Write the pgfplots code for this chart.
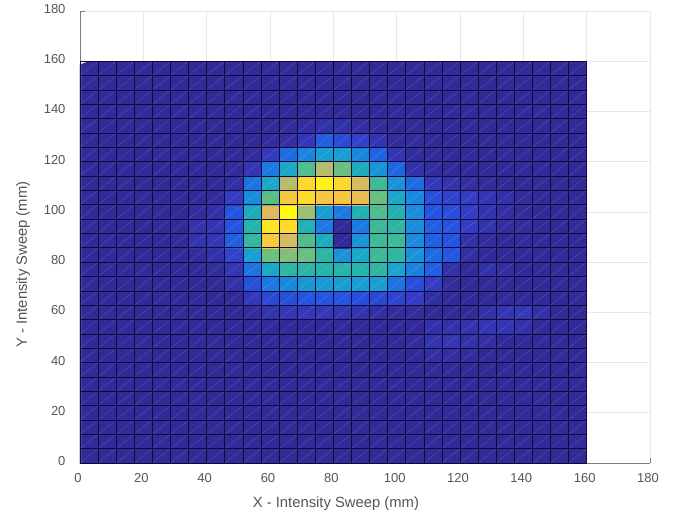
\documentclass[border=0pt]{standalone}
\usepackage{pgfplots}
\usepackage{fontspec}
\setmainfont{Liberation Sans}
\pgfplotsset{compat=1.18}
\definecolor{txt}{RGB}{85,85,85}
\definecolor{ax}{RGB}{125,125,125}
\definecolor{gr}{RGB}{232,232,232}
\definecolor{cell}{RGB}{15,10,60}
\begin{document}
\begin{tikzpicture}
\useasboundingbox (-80bp,-52bp) rectangle (599bp,463bp);
\begin{axis}[
 at={(0,0)},anchor=south west,scale only axis,width=570bp,height=452bp,
 xmin=0,xmax=180,ymin=0,ymax=180,
 xtick={0,20,...,180},ytick={0,20,...,180},
 axis x line=bottom,axis y line=left,
 axis line style={-,ax,line width=0.9pt},
 grid=major,grid style={gr,line width=0.7pt},
 tick style={ax,line width=0.8pt},tick align=inside,major tick length=5bp,
 /pgf/number format/assume math mode=true,
 tick label style={font=\fontsize{13bp}{15bp}\selectfont,text=txt},
 xticklabel style={xshift=-2bp,yshift=-7bp},
 yticklabel style={xshift=-11bp,yshift=2bp},
 xlabel={X - Intensity Sweep (mm)},ylabel={Y - Intensity Sweep (mm)},
 every axis x label/.style={at={(axis description cs:0.449,0)},yshift=-41bp,anchor=center,font=\fontsize{14.8bp}{16bp}\selectfont,text=txt},
 every axis y label/.style={at={(axis description cs:0,0.439)},xshift=-57bp,anchor=center,rotate=90,font=\fontsize{14.8bp}{16bp}\selectfont,text=txt},
 colormap={par}{rgb255=(50,38,140) rgb255=(52,60,195) rgb255=(35,85,225) rgb255=(25,130,225) rgb255=(25,165,205) rgb255=(35,180,170) rgb255=(90,190,130) rgb255=(170,190,110) rgb255=(225,185,90) rgb255=(255,205,50) rgb255=(255,250,10)},
 point meta min=0,point meta max=100,
 unbounded coords=jump,
]
\addplot[matrix plot*,y dir=normal,axis on top=false,mesh/cols=28,mesh/ordering=x varies,skip coords between index={784}{800},point meta=\thisrowno{0}]
 table[row sep=\\,header=false,x expr={2.857+5.7143*mod(\coordindex,28)},y expr={2.857+5.7143*floor(\coordindex/28)}]{%
2\\2\\2\\2\\2\\2\\2\\2\\2\\2\\2\\2\\2\\2\\2\\2\\2\\2\\2\\2\\2\\2\\2\\2\\2\\2\\2\\2\\%
2\\2\\2\\2\\2\\2\\2\\2\\2\\2\\2\\2\\2\\2\\2\\2\\2\\2\\2\\2\\2\\2\\2\\2\\2\\2\\2\\2\\%
2\\2\\2\\2\\2\\2\\2\\2\\2\\2\\2\\2\\2\\2\\2\\2\\2\\2\\2\\2\\2\\2\\2\\2\\2\\2\\2\\2\\%
2\\2\\2\\2\\2\\2\\2\\2\\2\\2\\2\\2\\2\\2\\2\\2\\2\\2\\2\\2\\2\\2\\2\\2\\2\\2\\2\\2\\%
2\\2\\2\\2\\2\\2\\2\\2\\2\\2\\2\\2\\2\\2\\2\\2\\2\\2\\2\\2\\2\\2\\2\\2\\2\\2\\2\\2\\%
2\\2\\2\\2\\2\\2\\2\\2\\2\\2\\2\\2\\2\\2\\2\\2\\2\\2\\2\\2\\2\\2\\2\\2\\2\\2\\2\\2\\%
2\\2\\2\\2\\2\\2\\2\\2\\2\\2\\2\\2\\2\\2\\2\\2\\2\\2\\2\\2\\2\\2\\2\\2\\2\\2\\2\\2\\%
2\\2\\2\\2\\2\\2\\2\\2\\2\\2\\2\\2\\2\\2\\2\\2\\2\\2\\2\\4\\4\\3\\2\\2\\2\\2\\2\\2\\%
2\\2\\2\\2\\2\\2\\2\\2\\2\\2\\2\\2\\2\\2\\2\\2\\2\\2\\3\\6\\7\\5\\4\\2\\2\\2\\2\\2\\%
2\\2\\2\\2\\2\\2\\2\\2\\2\\2\\2\\2\\2\\2\\2\\2\\2\\2\\2\\5\\5\\6\\7\\7\\5\\2\\2\\2\\%
2\\2\\2\\2\\2\\2\\2\\2\\2\\3\\6\\7\\8\\8\\7\\6\\4\\3\\3\\2\\2\\2\\5\\7\\8\\5\\2\\2\\%
2\\2\\2\\2\\2\\2\\2\\2\\2\\8\\15\\18\\20\\20\\20\\18\\15\\13\\10\\4\\2\\2\\2\\2\\2\\2\\2\\2\\%
2\\2\\2\\2\\2\\2\\2\\2\\5\\18\\28\\32\\36\\37\\38\\38\\38\\27\\17\\10\\3\\2\\2\\2\\2\\2\\2\\2\\%
2\\2\\2\\2\\2\\2\\2\\3\\7\\27\\42\\52\\52\\50\\50\\50\\52\\40\\30\\22\\5\\2\\5\\4\\2\\2\\2\\2\\%
2\\2\\2\\2\\2\\2\\3\\5\\12\\38\\62\\65\\62\\52\\35\\42\\55\\52\\35\\25\\20\\4\\2\\2\\2\\2\\2\\2\\%
2\\2\\2\\2\\2\\2\\6\\7\\22\\53\\88\\78\\58\\45\\2\\35\\55\\55\\33\\22\\19\\5\\3\\2\\2\\2\\2\\2\\%
2\\2\\2\\2\\2\\2\\6\\7\\20\\50\\95\\93\\48\\28\\2\\28\\55\\52\\33\\22\\19\\10\\6\\4\\3\\2\\2\\2\\%
2\\2\\2\\2\\2\\2\\3\\5\\20\\45\\80\\100\\68\\38\\28\\48\\58\\48\\33\\20\\17\\10\\6\\4\\3\\2\\2\\2\\%
2\\2\\2\\2\\2\\2\\2\\3\\10\\33\\60\\87\\93\\87\\87\\82\\62\\42\\32\\17\\12\\10\\7\\5\\3\\2\\2\\2\\%
2\\2\\2\\2\\2\\2\\2\\2\\4\\27\\42\\72\\92\\98\\92\\78\\55\\35\\25\\8\\6\\4\\3\\2\\2\\2\\2\\2\\%
2\\2\\2\\2\\2\\2\\2\\2\\3\\7\\28\\42\\58\\72\\62\\45\\35\\24\\5\\3\\2\\2\\2\\2\\2\\2\\2\\2\\%
2\\2\\2\\2\\2\\2\\2\\2\\2\\3\\9\\25\\31\\38\\38\\31\\23\\7\\3\\2\\2\\2\\2\\2\\2\\2\\2\\2\\%
2\\2\\2\\2\\2\\2\\2\\2\\2\\2\\3\\4\\8\\22\\16\\12\\6\\3\\3\\2\\2\\2\\2\\2\\2\\2\\2\\2\\%
2\\2\\2\\2\\2\\2\\2\\2\\2\\2\\2\\3\\4\\5\\5\\4\\3\\2\\2\\2\\2\\2\\2\\2\\2\\2\\2\\2\\%
2\\2\\2\\2\\2\\2\\2\\2\\2\\2\\2\\2\\2\\2\\2\\2\\2\\2\\2\\2\\2\\2\\2\\2\\2\\2\\2\\2\\%
2\\2\\2\\2\\2\\2\\2\\2\\2\\2\\2\\2\\2\\2\\2\\2\\2\\2\\2\\2\\2\\2\\2\\2\\2\\2\\2\\2\\%
2\\2\\2\\2\\2\\2\\2\\2\\2\\2\\2\\2\\2\\2\\2\\2\\2\\2\\2\\2\\2\\2\\2\\2\\2\\2\\2\\2\\%
2\\2\\2\\2\\2\\2\\2\\2\\2\\2\\2\\2\\2\\2\\2\\2\\2\\2\\2\\2\\2\\2\\2\\2\\2\\2\\2\\2\\%
};
\addplot[fill=white,draw=none,forget plot] coordinates {(0.4,160) (14,160) (14,164) (0.4,164)} \closedcycle;
\addplot[white,opacity=0.14,line width=0.6pt,forget plot] table[row sep=\\]{
x y\\
0 154.29\\5.71 160\\nan nan\\0 148.57\\11.43 160\\nan nan\\0 142.86\\17.14 160\\nan nan\\0 137.14\\22.86 160\\nan nan\\
0 131.43\\28.57 160\\nan nan\\0 125.71\\34.29 160\\nan nan\\0 120\\40 160\\nan nan\\0 114.29\\45.71 160\\nan nan\\
0 108.57\\51.43 160\\nan nan\\0 102.86\\57.14 160\\nan nan\\0 97.14\\62.86 160\\nan nan\\0 91.43\\68.57 160\\nan nan\\
0 85.71\\74.29 160\\nan nan\\0 80\\80 160\\nan nan\\0 74.29\\85.71 160\\nan nan\\0 68.57\\91.43 160\\nan nan\\
0 62.86\\97.14 160\\nan nan\\0 57.14\\102.86 160\\nan nan\\0 51.43\\108.57 160\\nan nan\\0 45.71\\114.29 160\\nan nan\\
0 40\\120 160\\nan nan\\0 34.29\\125.71 160\\nan nan\\0 28.57\\131.43 160\\nan nan\\0 22.86\\137.14 160\\nan nan\\
0 17.14\\142.86 160\\nan nan\\0 11.43\\148.57 160\\nan nan\\0 5.71\\154.29 160\\nan nan\\0 0\\160 160\\nan nan\\
5.71 0\\160 154.29\\nan nan\\11.43 0\\160 148.57\\nan nan\\17.14 0\\160 142.86\\nan nan\\22.86 0\\160 137.14\\nan nan\\
28.57 0\\160 131.43\\nan nan\\34.29 0\\160 125.71\\nan nan\\40 0\\160 120\\nan nan\\45.71 0\\160 114.29\\nan nan\\
51.43 0\\160 108.57\\nan nan\\57.14 0\\160 102.86\\nan nan\\62.86 0\\160 97.14\\nan nan\\68.57 0\\160 91.43\\nan nan\\
74.29 0\\160 85.71\\nan nan\\80 0\\160 80\\nan nan\\85.71 0\\160 74.29\\nan nan\\91.43 0\\160 68.57\\nan nan\\
97.14 0\\160 62.86\\nan nan\\102.86 0\\160 57.14\\nan nan\\108.57 0\\160 51.43\\nan nan\\114.29 0\\160 45.71\\nan nan\\
120 0\\160 40\\nan nan\\125.71 0\\160 34.29\\nan nan\\131.43 0\\160 28.57\\nan nan\\137.14 0\\160 22.86\\nan nan\\
142.86 0\\160 17.14\\nan nan\\148.57 0\\160 11.43\\nan nan\\154.29 0\\160 5.71\\
};
\addplot[cell,line width=0.6pt,forget plot] table[row sep=\\]{
x y\\
0 0\\0 160\\nan nan\\5.71 0\\5.71 160\\nan nan\\11.43 0\\11.43 160\\nan nan\\17.14 0\\17.14 160\\nan nan\\22.86 0\\22.86 160\\nan nan\\
28.57 0\\28.57 160\\nan nan\\34.29 0\\34.29 160\\nan nan\\40 0\\40 160\\nan nan\\45.71 0\\45.71 160\\nan nan\\51.43 0\\51.43 160\\nan nan\\
57.14 0\\57.14 160\\nan nan\\62.86 0\\62.86 160\\nan nan\\68.57 0\\68.57 160\\nan nan\\74.29 0\\74.29 160\\nan nan\\80 0\\80 160\\nan nan\\
85.71 0\\85.71 160\\nan nan\\91.43 0\\91.43 160\\nan nan\\97.14 0\\97.14 160\\nan nan\\102.86 0\\102.86 160\\nan nan\\108.57 0\\108.57 160\\nan nan\\
114.29 0\\114.29 160\\nan nan\\120 0\\120 160\\nan nan\\125.71 0\\125.71 160\\nan nan\\131.43 0\\131.43 160\\nan nan\\137.14 0\\137.14 160\\nan nan\\
142.86 0\\142.86 160\\nan nan\\148.57 0\\148.57 160\\nan nan\\154.29 0\\154.29 160\\nan nan\\160 0\\160 160\\nan nan\\
0 0\\160 0\\nan nan\\0 5.71\\160 5.71\\nan nan\\0 11.43\\160 11.43\\nan nan\\0 17.14\\160 17.14\\nan nan\\0 22.86\\160 22.86\\nan nan\\
0 28.57\\160 28.57\\nan nan\\0 34.29\\160 34.29\\nan nan\\0 40\\160 40\\nan nan\\0 45.71\\160 45.71\\nan nan\\0 51.43\\160 51.43\\nan nan\\
0 57.14\\160 57.14\\nan nan\\0 62.86\\160 62.86\\nan nan\\0 68.57\\160 68.57\\nan nan\\0 74.29\\160 74.29\\nan nan\\0 80\\160 80\\nan nan\\
0 85.71\\160 85.71\\nan nan\\0 91.43\\160 91.43\\nan nan\\0 97.14\\160 97.14\\nan nan\\0 102.86\\160 102.86\\nan nan\\0 108.57\\160 108.57\\nan nan\\
0 114.29\\160 114.29\\nan nan\\0 120\\160 120\\nan nan\\0 125.71\\160 125.71\\nan nan\\0 131.43\\160 131.43\\nan nan\\0 137.14\\160 137.14\\nan nan\\
0 142.86\\160 142.86\\nan nan\\0 148.57\\160 148.57\\nan nan\\0 154.29\\160 154.29\\nan nan\\0 160\\160 160\\
};
\end{axis}
\end{tikzpicture}
\end{document}
